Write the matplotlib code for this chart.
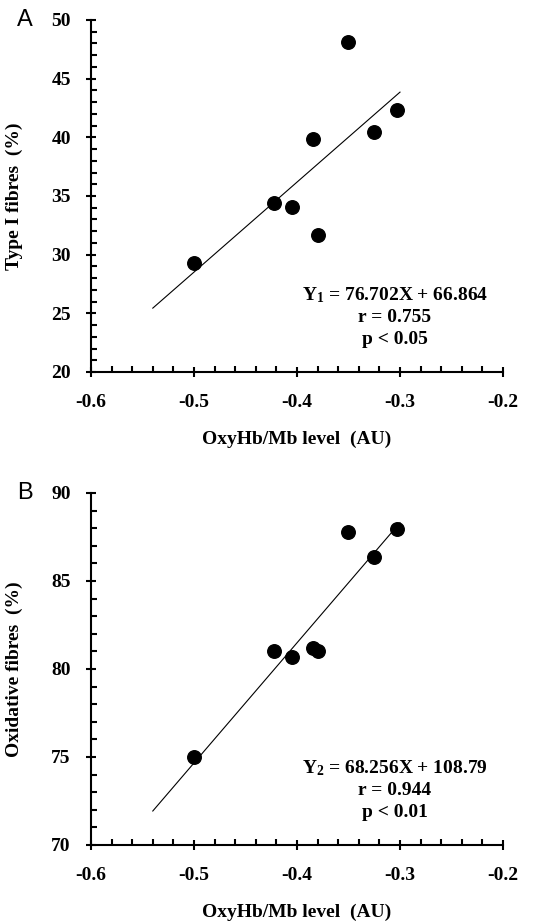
import numpy as np
import matplotlib
matplotlib.use("Agg")
import matplotlib.pyplot as plt
from matplotlib.ticker import MultipleLocator, FormatStrFormatter

# data
oxy_level = [-0.500, -0.4225, -0.405, -0.3846, -0.3798, -0.3503, -0.3257, -0.3027]
type1_fibres = [29.33, 34.42, 34.05, 39.85, 31.69, 48.15, 40.42, 42.29]
oxid_fibres = [75.0, 81.0, 80.69, 81.22, 81.05, 87.80, 86.34, 87.97]

fit_x = [-0.54, -0.30]
slope_a, icpt_a = 76.702, 66.864
slope_b, icpt_b = 68.256, 108.79

text_a = ["$\\mathbf{Y_1}$ = 76.702X + 66.864", "r = 0.755", "p < 0.05"]
text_b = ["$\\mathbf{Y_2}$ = 68.256X + 108.79", "r = 0.944", "p < 0.01"]

plt.rcParams['font.family'] = ['Liberation Serif', 'DejaVu Serif']
plt.rcParams['font.weight'] = 'bold'
plt.rcParams['mathtext.fontset'] = 'custom'
plt.rcParams['mathtext.rm'] = 'Liberation Serif'
plt.rcParams['mathtext.bf'] = 'Liberation Serif:bold'

fig = plt.figure(figsize=(5.47, 9.21), dpi=100)
W, H = 547.0, 921.0


def make_panel(top_px, ys, ylim, ystep, ylabel, slope, icpt, lines, letter):
    ax = fig.add_axes([91 / W, 1 - (top_px + 352) / H, 412 / W, 352 / H])
    ax.scatter(oxy_level, ys, s=95, color='black', zorder=3)
    fx = np.array(fit_x)
    ax.plot(fx, slope * fx + icpt, color='black', linewidth=0.8)
    ax.set_xlim(-0.6, -0.2)
    ax.set_ylim(*ylim)
    ax.spines['top'].set_visible(False)
    ax.spines['right'].set_visible(False)
    ax.spines['left'].set_linewidth(1.5)
    ax.spines['bottom'].set_linewidth(1.5)
    ax.xaxis.set_major_locator(MultipleLocator(0.1))
    ax.xaxis.set_minor_locator(MultipleLocator(0.02))
    ax.yaxis.set_major_locator(MultipleLocator(ystep))
    ax.yaxis.set_minor_locator(MultipleLocator(1))
    ax.xaxis.set_major_formatter(FormatStrFormatter('%.1f'))
    ax.tick_params(which='major', direction='inout', length=7, width=1.5,
                   labelsize=14)
    ax.tick_params(which='minor', direction='in', length=4, width=1.5)
    ax.tick_params(axis='x', which='major', pad=12)
    ax.tick_params(axis='y', which='major', pad=11)
    ax.set_xlabel("OxyHb/Mb level  (AU)", fontsize=14, fontweight='bold')
    ax.set_ylabel(ylabel, fontsize=14, fontweight='bold')
    ax.xaxis.set_label_coords(0.5, -0.168)
    ax.yaxis.set_label_coords(-0.165, 0.5)
    for i, t in enumerate(lines):
        ax.text(0.738, 0.219 - i * 0.063, t, transform=ax.transAxes, ha='center',
                va='center', fontsize=14, fontweight='bold')
    fig.text(25 / W, 1 - top_px / H, letter, family='Liberation Sans',
             fontweight='normal', fontsize=17, ha='center', va='center')
    return ax


make_panel(20, type1_fibres, (20, 50), 5, "Type I fibres  (%)",
           slope_a, icpt_a, text_a, "A")
make_panel(493, oxid_fibres, (70, 90), 5, "Oxidative fibres  (%)",
           slope_b, icpt_b, text_b, "B")

fig.savefig("out.png", dpi=100)
